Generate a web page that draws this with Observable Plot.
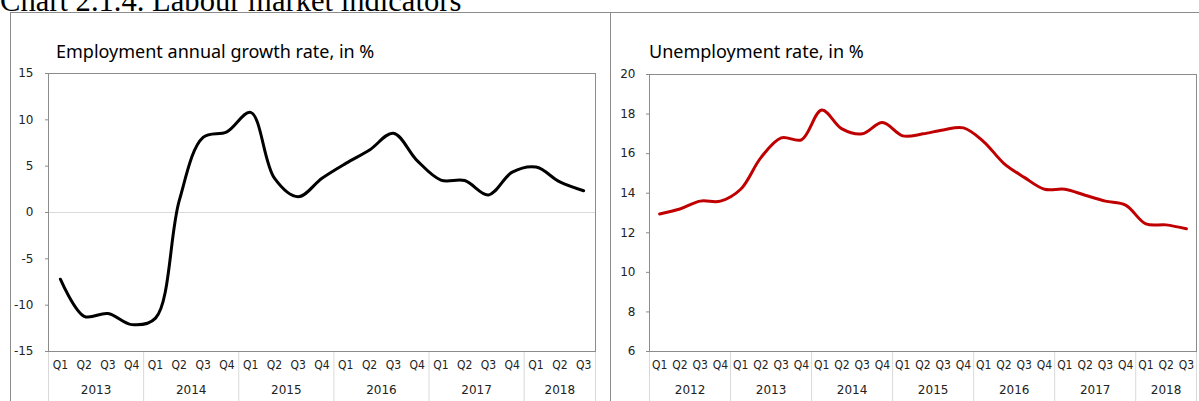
<!DOCTYPE html>
<html>
<head>
<meta charset="utf-8">
<script src="https://cdn.jsdelivr.net/npm/d3@7"></script>
<script src="https://cdn.jsdelivr.net/npm/@observablehq/plot@0.6"></script>
<style>
  body { margin: 0; background: #fff; overflow: hidden; }
  #page { position: relative; width: 1199px; height: 401px; overflow: hidden; background: #fff; }
  .title { position: absolute; left: 0; top: -14px; font-family: "Liberation Serif", "Times New Roman", serif; font-size: 30.6px; line-height: 30px; white-space: nowrap; color: #000; }
  .panel { position: absolute; top: 12px; height: 430px; border: 1px solid #8c8c8c; box-sizing: border-box; }
  .sub { position: absolute; font-family: "Noto Sans", sans-serif; font-size: 18px; line-height: 22px; white-space: nowrap; color: #000; }
  .plot { position: absolute; top: 12px; }
</style>
</head>
<body>
<div id="page">
  <div class="title">Chart 2.1.4. Labour market indicators</div>
  <div class="panel" style="left:10px;width:601px;"></div>
  <div class="panel" style="left:610px;width:620px;"></div>
  <div class="sub" style="left:56px;top:40px;">Employment annual growth rate, in %</div>
  <div class="sub" style="left:649px;top:40px;">Unemployment rate, in %</div>
  <div class="plot" id="left" style="left:10px;"></div>
  <div class="plot" id="right" style="left:610px;"></div>
</div>
<script>
// ---- data ----
const quarterNames = ["Q1", "Q2", "Q3", "Q4"];

const empYears = [2013, 2014, 2015, 2016, 2017, 2018];
const empGrowth = [
  -7.2, -11.2, -10.9, -12.1,   // 2013
  -11.4, 1.3, 8.1, 8.7,        // 2014
  10.8, 3.7, 1.7, 3.7,         // 2015
  5.3, 6.75, 8.55, 5.6,        // 2016
  3.5, 3.45, 1.9, 4.35,        // 2017
  4.9, 3.3, 2.35               // 2018
];
const empTicks = [-15, -10, -5, 0, 5, 10, 15];

const unempYears = [2012, 2013, 2014, 2015, 2016, 2017, 2018];
const unempRate = [
  12.95, 13.2, 13.6, 13.6,     // 2012
  14.2, 15.8, 16.8, 16.7,      // 2013
  18.2, 17.25, 17.0, 17.57,    // 2014
  16.9, 17.0, 17.2, 17.3,      // 2015
  16.6, 15.5, 14.8, 14.2,      // 2016
  14.2, 13.9, 13.6, 13.4,      // 2017
  12.45, 12.4, 12.2            // 2018
];
const unempTicks = [6, 8, 10, 12, 14, 16, 18, 20];

function buildChart(years, values, ticks, cfg) {
  const n = values.length;
  const periods = values.map((v, i) => ({
    i, v, q: quarterNames[i % 4], year: years[Math.floor(i / 4)]
  }));
  const groups = years.map(y => {
    const idx = periods.filter(p => p.year === y).map(p => p.i);
    return { year: String(y), mid: (idx[0] + idx[idx.length - 1]) / 2, start: idx[0] - 0.5 };
  });
  const bounds = groups.map(g => g.start).concat([n - 0.5]);
  const height = 389, marginTop = cfg.marginTop, marginBottom = 50;
  const plotH = height - marginTop - marginBottom;
  return Plot.plot({
    width: cfg.width,
    height,
    marginLeft: cfg.marginLeft,
    marginRight: cfg.marginRight,
    marginTop,
    marginBottom,
    x: { domain: [-0.5, n - 0.5], axis: null, label: null },
    y: { domain: [ticks[0], ticks[ticks.length - 1]], label: null },
    style: { fontFamily: "DejaVu Sans, Verdana, sans-serif", fontSize: "12px", color: "#222", background: "transparent", overflow: "visible" },
    marks: [
      cfg.zeroLine ? Plot.ruleY([0], { stroke: "#d9d9d9", strokeWidth: 1 }) : null,
      Plot.ruleX(bounds, { x: d => d, insetTop: plotH, insetBottom: -marginBottom, stroke: "#d9d9d9" }),
      Plot.axisY({ ticks, tickSize: 3, tickPadding: cfg.tickPadding, tickFormat: d => String(d), stroke: "#8c8c8c", fill: "#222", fontSize: 12, label: null }),
      Plot.text(periods, { x: "i", text: "q", frameAnchor: "bottom", dy: 17, fontSize: 12, fontFamily: "DejaVu Sans Condensed, DejaVu Sans, sans-serif", fontStretch: "condensed", fill: "#222" }),
      Plot.text(groups, { x: "mid", text: "year", frameAnchor: "bottom", dy: 42, fontSize: 12, fill: "#222" }),
      Plot.frame({ stroke: "#8c8c8c" }),
      Plot.line(periods, { x: "i", y: "v", stroke: cfg.color, strokeWidth: 3, curve: "catmull-rom", strokeLinejoin: "round", strokeLinecap: "round" })
    ]
  });
}

document.getElementById("left").append(
  buildChart(empYears, empGrowth, empTicks, { width: 600, marginLeft: 38, marginRight: 15, marginTop: 61, tickPadding: 12, color: "#000", zeroLine: true })
);
document.getElementById("right").append(
  buildChart(unempYears, unempRate, unempTicks, { width: 589, marginLeft: 39, marginRight: 3, marginTop: 62, tickPadding: 11, color: "#c00000", zeroLine: false })
);
</script>
</body>
</html>
